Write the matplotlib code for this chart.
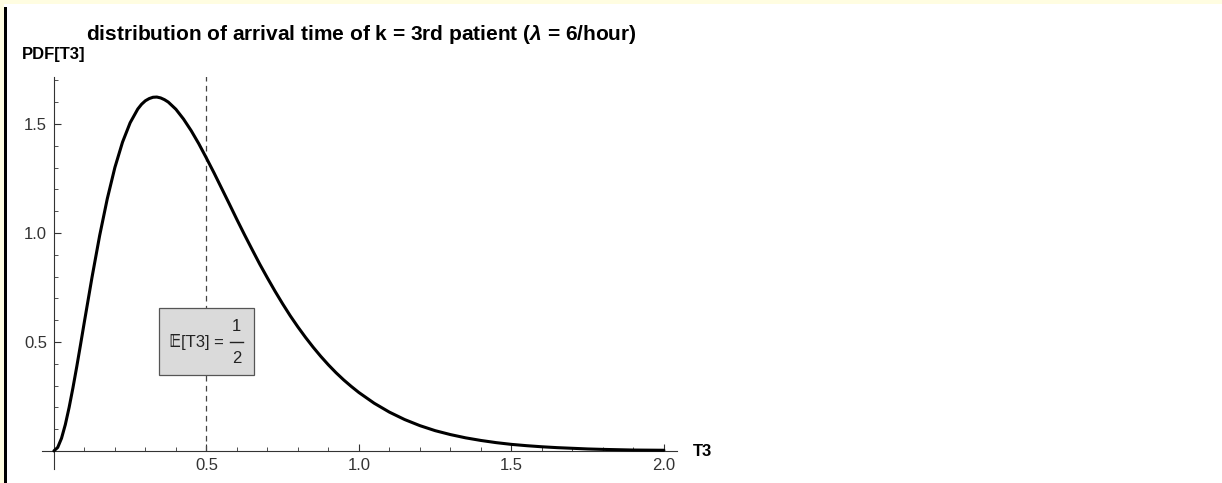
import matplotlib
matplotlib.use("Agg")
import matplotlib.pyplot as plt
from matplotlib.patches import Rectangle
from matplotlib.lines import Line2D
from matplotlib.ticker import MultipleLocator, FixedLocator

plt.rcParams["font.family"] = ["Liberation Sans", "DejaVu Sans"]
plt.rcParams["mathtext.fontset"] = "custom"
plt.rcParams["mathtext.rm"] = "Liberation Sans"
plt.rcParams["mathtext.bfit"] = "Liberation Sans:italic:bold"

# arrival time of the 3rd patient (hours) and its density
t3 = [0.0, 0.0125, 0.025, 0.0375, 0.05, 0.0625, 0.075, 0.0875, 0.1, 0.125,
      0.15, 0.175, 0.2, 0.225, 0.25, 0.275, 0.2875, 0.3, 0.3125, 0.325,
      0.3375, 0.35, 0.3625, 0.375, 0.4, 0.425, 0.45, 0.475, 0.5, 0.525,
      0.55, 0.575, 0.6, 0.625, 0.65, 0.675, 0.7, 0.725, 0.75, 0.775, 0.8,
      0.825, 0.85, 0.875, 0.9, 0.925, 0.95, 0.975, 1.0, 1.05, 1.1, 1.15,
      1.2, 1.25, 1.3, 1.35, 1.4, 1.45, 1.5, 1.55, 1.6, 1.65, 1.7, 1.75,
      1.8, 1.9, 2.0]
pdf_t3 = [0.0, 0.016, 0.058, 0.121, 0.200, 0.290, 0.387, 0.489, 0.593, 0.797,
          0.988, 1.157, 1.301, 1.417, 1.506, 1.569, 1.591, 1.607, 1.617, 1.623,
          1.624, 1.620, 1.612, 1.601, 1.568, 1.523, 1.470, 1.410, 1.344, 1.276,
          1.205, 1.134, 1.062, 0.992, 0.924, 0.857, 0.794, 0.733, 0.675, 0.620,
          0.569, 0.521, 0.476, 0.434, 0.395, 0.359, 0.326, 0.296, 0.268, 0.219,
          0.178, 0.144, 0.116, 0.093, 0.075, 0.060, 0.048, 0.038, 0.030, 0.024,
          0.019, 0.015, 0.012, 0.009, 0.007, 0.004, 0.003]
mean_t3 = 0.5
x_major = [0.5, 1.0, 1.5, 2.0]
y_major = [0.5, 1.0, 1.5]
x_labels = ["0.5", "1.0", "1.5", "2.0"]
y_labels = ["0.5", "1.0", "1.5"]

W, H = 1222, 483
fig = plt.figure(figsize=(W / 100, H / 100), dpi=100)
fig.patch.set_facecolor("white")

# frame strips along the top and left edge
fig.patches.append(Rectangle((0, 1 - 4 / H), 1, 4 / H, transform=fig.transFigure,
                             facecolor="#fffde1", edgecolor="none"))
fig.patches.append(Rectangle((0, 0), 4 / W, 1, transform=fig.transFigure,
                             facecolor="#fffde1", edgecolor="none"))
fig.patches.append(Rectangle((4 / W, 0), 3 / W, 1 - 7 / H, transform=fig.transFigure,
                             facecolor="black", edgecolor="none"))

ax = fig.add_axes([42 / W, 14 / H, 635 / W, 392 / H])
ax.set_xlim(-0.039, 2.043)
ax.set_ylim(-0.083, 1.716)
ax.patch.set_alpha(0)

for side in ("top", "right"):
    ax.spines[side].set_visible(False)
for side in ("left", "bottom"):
    ax.spines[side].set_position(("data", 0))
    ax.spines[side].set_color("#333333")
    ax.spines[side].set_linewidth(0.8)

ax.xaxis.set_major_locator(FixedLocator(x_major))
ax.yaxis.set_major_locator(FixedLocator(y_major))
ax.set_xticklabels(x_labels)
ax.set_yticklabels(y_labels)
ax.xaxis.set_minor_locator(MultipleLocator(0.1))
ax.yaxis.set_minor_locator(MultipleLocator(0.1))
ax.tick_params(which="major", direction="in", length=5, width=0.8, color="#333333",
               labelsize=12, labelcolor="#333333", pad=5)
ax.tick_params(which="minor", direction="in", length=3, width=0.6, color="#333333")

# expected value marker
ax.vlines(mean_t3, 0, 1.725, colors="#444444", linestyles=(0, (4.5, 3.5)),
          linewidth=0.9, zorder=2)

ax.plot(t3, pdf_t3, color="black", linewidth=2.2, zorder=4, clip_on=False,
        solid_capstyle="round", solid_joinstyle="round")

px_x = 1 / 305
px_y = 1 / 218
label_y = 0.5
ax.add_patch(Rectangle((mean_t3 - 47 * px_x, label_y - 33 * px_y), 95 * px_x, 67 * px_y,
                       facecolor="#dadada", edgecolor="#555555", linewidth=0.9, zorder=5))
ax.annotate("\U0001D53C[T3] =", xy=(mean_t3, label_y), xytext=(17, 0),
            textcoords="offset pixels", ha="right", va="center", fontsize=12,
            color="#222222", zorder=6)
ax.annotate("1", xy=(mean_t3, label_y), xytext=(30, 15), textcoords="offset pixels",
            ha="center", va="center", fontsize=12, color="#222222", zorder=6)
ax.annotate("2", xy=(mean_t3, label_y), xytext=(30, -17), textcoords="offset pixels",
            ha="center", va="center", fontsize=12, color="#222222", zorder=6)
ax.add_line(Line2D([mean_t3 + 24 * px_x, mean_t3 + 37 * px_x], [label_y, label_y],
                   color="#222222", linewidth=1.0, zorder=6))

fig.text(22 / W, 1 - 54 / H, "PDF[T3]", ha="left", va="center", fontsize=12,
         fontweight="bold")
fig.text(693 / W, 1 - 451 / H, "T3", ha="left", va="center", fontsize=12,
         fontweight="bold")
fig.text(361 / W, 1 - 35 / H,
         r"distribution of arrival time of k = 3rd patient ($\mathbfit{\lambda}$ = 6/hour)",
         ha="center", va="center", fontsize=15, fontweight="bold")

fig.savefig("out.png", dpi=100)
